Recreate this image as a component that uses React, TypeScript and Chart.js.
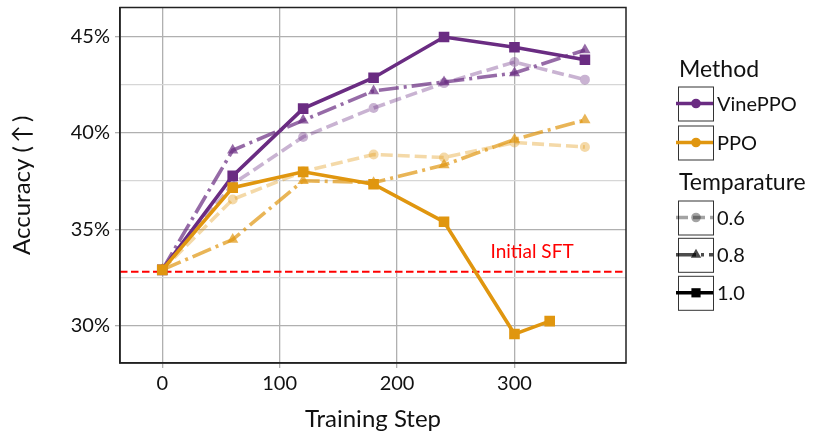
import React, { useEffect, useRef } from 'react';
import { Chart, registerables } from 'chart.js';

Chart.register(...registerables);

// ---------- data ----------
const steps = [0, 60, 120, 180, 240, 300, 360];
const ppoSteps10 = [0, 60, 120, 180, 240, 300, 330];

const vinePPO_t06 = [32.9, 37.35, 39.79, 41.29, 42.58, 43.67, 42.76];
const vinePPO_t08 = [32.9, 39.1, 40.65, 42.17, 42.64, 43.1, 44.3];
const vinePPO_t10 = [32.9, 37.77, 41.26, 42.86, 44.97, 44.44, 43.79];

const ppo_t06 = [32.9, 36.55, 38.0, 38.88, 38.72, 39.5, 39.27];
const ppo_t08 = [32.9, 34.47, 37.52, 37.42, 38.33, 39.66, 40.67];
const ppo_t10 = [32.9, 37.16, 37.98, 37.34, 35.39, 29.57, 30.24];

const sftAccuracy = 32.8;
const sftLabel = 'Initial SFT';

const xTickValues = [0, 100, 200, 300];
const yGridValues = [30, 32.5, 35, 37.5, 40, 42.5, 45];
const methodNames = ['VinePPO', 'PPO'];
const temperatureNames = ['0.6', '0.8', '1.0'];

// ---------- styles ----------
const FONT = 'Lato, "DejaVu Sans", sans-serif';
const PURPLE = [106, 44, 130];
const ORANGE = [224, 150, 15];
const tempAlpha = [0.36, 0.7, 1];
const tempDash = [[12, 5], [20, 5, 3, 5], []];
const tempPoint = ['circle', 'triangle', 'rect'];
const tempRadius = [5, 6.5, 7.5];

const rgba = (c: number[], a: number) => `rgba(${c[0]},${c[1]},${c[2]},${a})`;

function makeSet(label: string, xs: number[], ys: number[], color: number[], t: number) {
  const col = rgba(color, tempAlpha[t]);
  return {
    label,
    data: xs.map((x, i) => ({ x, y: ys[i] })),
    borderColor: col,
    backgroundColor: col,
    borderWidth: 3.6,
    borderDash: tempDash[t],
    borderCapStyle: 'butt',
    pointStyle: tempPoint[t],
    pointRadius: tempRadius[t],
    pointBackgroundColor: col,
    pointBorderWidth: 0,
    pointBorderColor: col,
    tension: 0,
    fill: false,
  };
}

function drawMarker(ctx: CanvasRenderingContext2D, style: string, x: number, y: number, r: number) {
  ctx.beginPath();
  if (style === 'circle') {
    ctx.arc(x, y, r, 0, Math.PI * 2);
  } else if (style === 'triangle') {
    const rad = -Math.PI / 2;
    ctx.moveTo(x + Math.cos(rad) * r, y + Math.sin(rad) * r);
    ctx.lineTo(x + Math.cos(rad + (2 * Math.PI) / 3) * r, y + Math.sin(rad + (2 * Math.PI) / 3) * r);
    ctx.lineTo(x + Math.cos(rad + (4 * Math.PI) / 3) * r, y + Math.sin(rad + (4 * Math.PI) / 3) * r);
    ctx.closePath();
  } else {
    const s = r * Math.SQRT1_2;
    ctx.rect(x - s, y - s, 2 * s, 2 * s);
  }
  ctx.fill();
}

const framePlugin = {
  id: 'frame',
  beforeDatasetsDraw(chart: any) {
    const { ctx, chartArea, scales } = chart;
    const y = scales.y.getPixelForValue(sftAccuracy);
    ctx.save();
    ctx.strokeStyle = '#ff0000';
    ctx.lineWidth = 2;
    ctx.setLineDash([7.5, 3.5]);
    ctx.beginPath();
    ctx.moveTo(chartArea.left, y);
    ctx.lineTo(chartArea.right, y);
    ctx.stroke();
    ctx.restore();
  },
  afterDatasetsDraw(chart: any) {
    const { ctx, chartArea, scales } = chart;
    ctx.save();
    ctx.fillStyle = '#ff0000';
    ctx.font = `19px ${FONT}`;
    ctx.textAlign = 'center';
    ctx.textBaseline = 'middle';
    ctx.fillText(sftLabel, scales.x.getPixelForValue(315), scales.y.getPixelForValue(sftAccuracy + 1.05));
    ctx.strokeStyle = '#222';
    ctx.lineWidth = 1.5;
    ctx.strokeRect(chartArea.left, chartArea.top, chartArea.right - chartArea.left, chartArea.bottom - chartArea.top);
    ctx.restore();
  },
};

const legendPlugin = {
  id: 'boxedLegend',
  afterDraw(chart: any) {
    const ctx: CanvasRenderingContext2D = chart.ctx;
    const boxL = 678;
    const boxW = 35;
    const boxH = 34;
    const textX = 717;
    ctx.save();
    ctx.textBaseline = 'middle';
    ctx.textAlign = 'left';
    ctx.fillStyle = '#111';
    ctx.font = `23px ${FONT}`;
    ctx.fillText('Method', 679, 70);
    ctx.fillText('Temparature', 679, 183);

    const entries: any[] = [
      { cy: 103.5, label: methodNames[0], color: rgba(PURPLE, 1), dash: [], marker: 'circle', r: 4.8 },
      { cy: 142.5, label: methodNames[1], color: rgba(ORANGE, 1), dash: [], marker: 'circle', r: 4.8 },
      { cy: 217.5, label: temperatureNames[0], color: rgba([0, 0, 0], tempAlpha[0]), dash: tempDash[0], marker: tempPoint[0], r: 4.8 },
      { cy: 254.8, label: temperatureNames[1], color: rgba([0, 0, 0], tempAlpha[1]), dash: tempDash[1], marker: tempPoint[1], r: 6 },
      { cy: 292.8, label: temperatureNames[2], color: rgba([0, 0, 0], tempAlpha[2]), dash: tempDash[2], marker: tempPoint[2], r: 6.5 },
    ];
    for (const e of entries) {
      ctx.strokeStyle = '#333';
      ctx.lineWidth = 1;
      ctx.setLineDash([]);
      ctx.strokeRect(boxL + 0.5, e.cy - boxH / 2 + 0.5, boxW, boxH);
      ctx.strokeStyle = e.color;
      ctx.lineWidth = 3.5;
      ctx.lineCap = 'butt';
      ctx.setLineDash(e.dash);
      ctx.beginPath();
      ctx.moveTo(boxL - 2, e.cy);
      ctx.lineTo(boxL + boxW, e.cy);
      ctx.stroke();
      ctx.setLineDash([]);
      ctx.fillStyle = e.color;
      drawMarker(ctx, e.marker, boxL + 18, e.cy, e.r);
      ctx.fillStyle = '#111';
      ctx.font = `20px ${FONT}`;
      ctx.fillText(e.label, textX, e.cy + 1);
    }
    ctx.restore();
  },
};

export default function App() {
  const ref = useRef<HTMLCanvasElement | null>(null);

  useEffect(() => {
    if (!ref.current) return;
    const datasets = [
      makeSet('PPO T=1.0', ppoSteps10, ppo_t10, ORANGE, 2),
      makeSet('PPO T=0.8', steps, ppo_t08, ORANGE, 1),
      makeSet('PPO T=0.6', steps, ppo_t06, ORANGE, 0),
      makeSet('VinePPO T=1.0', steps, vinePPO_t10, PURPLE, 2),
      makeSet('VinePPO T=0.8', steps, vinePPO_t08, PURPLE, 1),
      makeSet('VinePPO T=0.6', steps, vinePPO_t06, PURPLE, 0),
    ];
    const chart = new Chart(ref.current, {
      type: 'line',
      data: { datasets: datasets as any },
      plugins: [framePlugin, legendPlugin],
      options: {
        animation: false,
        responsive: false,
        devicePixelRatio: 1,
        layout: { padding: { left: 0, right: 188, top: 7, bottom: 0 } },
        plugins: { legend: { display: false }, tooltip: { enabled: false } },
        scales: {
          x: {
            type: 'linear',
            min: -36,
            max: 395,
            afterBuildTicks: (s: any) => {
              s.ticks = xTickValues.map((v) => ({ value: v }));
            },
            afterFit: (s: any) => {
              s.height = 74;
              s.paddingLeft = 0;
              s.paddingRight = 0;
            },
            ticks: {
              autoSkip: false,
              color: '#111',
              padding: 4,
              maxRotation: 0,
              font: { family: FONT, size: 20, lineHeight: 1.2 },
              callback: (v: any) => String(v),
            },
            grid: { color: '#b0b0b0', lineWidth: 1.3, tickLength: 5, tickColor: '#b0b0b0', tickWidth: 1.3 },
            border: { display: true, color: '#222', width: 1.5 },
            title: {
              display: true,
              text: 'Training Step',
              color: '#111',
              font: { family: FONT, size: 24, lineHeight: 1.2 },
              padding: { top: 0, bottom: 3 },
            },
          },
          y: {
            type: 'linear',
            min: 28.07,
            max: 46.5,
            afterBuildTicks: (s: any) => {
              s.ticks = yGridValues.map((v) => ({ value: v }));
            },
            afterFit: (s: any) => {
              s.width = 120;
              s.paddingTop = 0;
              s.paddingBottom = 0;
            },
            ticks: {
              autoSkip: false,
              color: '#111',
              padding: 5,
              font: { family: FONT, size: 20, lineHeight: 1.2 },
              callback: (v: any) => (Number(v) % 5 === 0 ? `${v}%` : ''),
            },
            grid: {
              color: (c: any) => (c.tick && c.tick.value % 5 === 0 ? '#b0b0b0' : '#d6d6d6'),
              tickColor: (c: any) => (c.tick && c.tick.value % 5 === 0 ? '#b0b0b0' : 'rgba(0,0,0,0)'),
              lineWidth: 1.3,
              tickLength: 5,
              tickWidth: 1.3,
            },
            border: { display: true, color: '#222', width: 1.5 },
            title: {
              display: true,
              text: 'Accuracy (\u2009\u2191\u2009)',
              color: '#111',
              font: { family: FONT, size: 24, lineHeight: 1.2 },
              padding: { top: 8, bottom: 0 },
            },
          },
        },
      },
    });
    return () => chart.destroy();
  }, []);

  return (
    <div style={{ position: 'absolute', left: 0, top: 0, width: 814, height: 437, background: '#fff' }}>
      <canvas ref={ref} width={814} height={437} style={{ display: 'block' }} />
    </div>
  );
}
